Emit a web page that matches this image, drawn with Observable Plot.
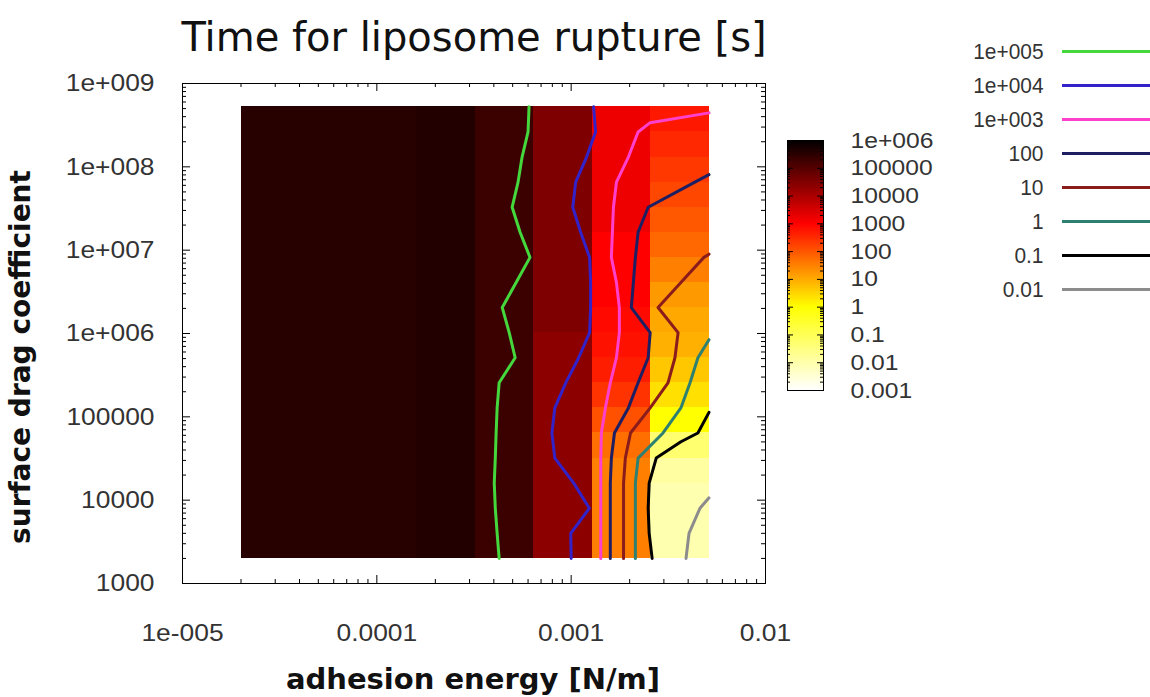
<!DOCTYPE html>
<html>
<head>
<meta charset="utf-8">
<script src="https://cdn.jsdelivr.net/npm/d3@7"></script>
<script src="https://cdn.jsdelivr.net/npm/@observablehq/plot@0.6"></script>
<style>
  html, body { margin: 0; padding: 0; background: #fff; }
  #page { position: relative; width: 1150px; height: 697px; overflow: hidden; background: #fff; }
  #page > * { position: absolute; }
  .title { left: 0px; width: 948px; top: 17px; text-align: center; white-space: nowrap;
           font-family: "DejaVu Sans", sans-serif; font-size: 40px; line-height: 40px; color: #111; }
  .xlabel { left: 173px; width: 600px; top: 665px; text-align: center; white-space: nowrap;
            font-family: "DejaVu Sans", sans-serif; font-weight: bold; font-size: 29px; line-height: 29px; color: #111; }
  .ylabel { left: -229px; width: 500px; top: 343px; text-align: center; white-space: nowrap;
            font-family: "DejaVu Sans", sans-serif; font-weight: bold; font-size: 28px; line-height: 28px; color: #111;
            transform: rotate(-90deg); transform-origin: 50% 50%; }
</style>
</head>
<body>
<div id="page"></div>
<script>
// ---------------- data ----------------
// grid nodes (adhesion energy [N/m], surface drag coefficient)
const energyGrid = [2e-5, 4e-5, 8e-5, 1.6e-4, 3.2e-4, 6.4e-4, 1.28e-3, 2.56e-3, 5.12e-3];
const dragGrid = [2000, 4000, 8000, 16000, 32000, 64000, 128000, 256000, 512000, 1024000,
                  2048000, 4096000, 8192000, 16384000, 32768000, 65536000, 131072000, 262144000, 524288000];

// rupture time [s] of each pm3d cell, one array per energy column, bottom row first
const timeCol0 = [3.5e5,3.5e5,3.5e5,3.5e5,3.5e5,3.5e5,3.5e5,3.5e5,3.5e5,3.5e5,3.5e5,3.5e5,3.5e5,3.5e5,3.5e5,3.5e5,3.5e5,3.5e5];
const timeCol1 = [3.5e5,3.5e5,3.5e5,3.5e5,3.5e5,3.5e5,3.5e5,3.5e5,3.5e5,3.5e5,3.5e5,3.5e5,3.5e5,3.5e5,3.5e5,3.5e5,3.5e5,3.5e5];
const timeCol2 = [3.5e5,3.5e5,3.5e5,3.5e5,3.5e5,3.5e5,3.5e5,3.5e5,3.5e5,3.5e5,3.5e5,3.5e5,3.5e5,3.5e5,3.5e5,3.5e5,3.5e5,3.5e5];
const timeCol3 = [4.0e5,4.0e5,4.0e5,4.0e5,4.0e5,4.0e5,4.0e5,4.0e5,4.0e5,4.0e5,4.0e5,4.0e5,4.0e5,4.0e5,4.0e5,4.0e5,4.0e5,4.0e5];
const timeCol4 = [2.0e5,2.0e5,2.0e5,2.0e5,2.0e5,2.0e5,2.0e5,2.0e5,2.0e5,2.0e5,2.0e5,2.0e5,2.0e5,2.0e5,2.0e5,2.0e5,2.0e5,2.0e5];
const timeCol5 = [2.2e4,2.2e4,2.2e4,2.2e4,2.2e4,2.2e4,2.2e4,2.2e4,2.2e4,3.2e4,3.2e4,3.2e4,3.2e4,3.2e4,3.2e4,3.2e4,3.2e4,3.2e4];
const timeCol6 = [32,32,32,32,50,112,250,450,630,790,1000,1000,1000,1600,1600,1600,1600,1600];
const timeCol7 = [0.0085,0.0085,0.0085,0.0126,0.05,1,2.3,4.5,8.5,10.5,16,32,59,93,145,220,340,525];
const cellTime = [timeCol0, timeCol1, timeCol2, timeCol3, timeCol4, timeCol5, timeCol6, timeCol7];

// contour lines: [adhesion energy, drag coefficient]
const contour1e5 = [[6.07e-4,524288000],[6.0e-4,262144000],[5.59e-4,131072000],[5.33e-4,65536000],[4.97e-4,32768000],
  [5.46e-4,16384000],[6.14e-4,8192000],[5.21e-4,4096000],[4.42e-4,2048000],[4.80e-4,1024000],[5.15e-4,512000],
  [4.26e-4,256000],[4.16e-4,128000],[4.11e-4,64000],[4.07e-4,32000],[4.02e-4,16000],[4.07e-4,8000],[4.16e-4,4000],[4.26e-4,2000]];
const contour1e4 = [[1.304e-3,524288000],[1.335e-3,262144000],[1.20e-3,131072000],[1.055e-3,65536000],[1.019e-3,32768000],
  [1.119e-3,16384000],[1.244e-3,8192000],[1.259e-3,4096000],[1.259e-3,2048000],[1.244e-3,1024000],[1.093e-3,512000],
  [9.38e-4,256000],[8.24e-4,128000],[7.96e-4,64000],[8.24e-4,32000],[1.031e-3,16000],[1.24e-3,8000],[9.95e-4,4000],[1.0e-3,2000]];
const contour1e3 = [[5.12e-3,4.44e8],[2.55e-3,3.39e8],[2.21e-3,262144000],[1.97e-3,131072000],[1.71e-3,65536000],
  [1.65e-3,32768000],[1.63e-3,16384000],[1.61e-3,8192000],[1.71e-3,4096000],[1.77e-3,2048000],[1.77e-3,1024000],
  [1.71e-3,512000],[1.59e-3,256000],[1.50e-3,128000],[1.43e-3,64000],[1.42e-3,32000],[1.42e-3,16000],[1.42e-3,8000],[1.42e-3,4000],[1.42e-3,2000]];
const contour1e2 = [[5.12e-3,8.07e7],[4.33e-3,65536000],[2.49e-3,32768000],[2.21e-3,16384000],[2.14e-3,8192000],
  [2.09e-3,4096000],[2.04e-3,2048000],[2.55e-3,1024000],[2.49e-3,512000],[2.21e-3,256000],[1.97e-3,128000],
  [1.67e-3,64000],[1.61e-3,32000],[1.59e-3,16000],[1.59e-3,8000],[1.59e-3,4000],[1.59e-3,2000]];
const contour1e1 = [[5.12e-3,8.96e6],[4.82e-3,8192000],[3.67e-3,4096000],[2.80e-3,2048000],[3.55e-3,1024000],
  [3.42e-3,512000],[3.15e-3,256000],[2.55e-3,128000],[2.02e-3,64000],[1.90e-3,32000],[1.86e-3,16000],
  [1.86e-3,8000],[1.86e-3,4000],[1.86e-3,2000]];
const contour1e0 = [[5.12e-3,8.43e5],[4.49e-3,512000],[4.09e-3,256000],[3.67e-3,128000],[2.97e-3,64000],
  [2.21e-3,32000],[2.14e-3,16000],[2.14e-3,8000],[2.14e-3,4000],[2.14e-3,2000]];
const contour1em1 = [[5.12e-3,1.13e5],[4.49e-3,64000],[3.67e-3,5.02e4],[2.74e-3,32000],[2.52e-3,16000],
  [2.49e-3,8000],[2.52e-3,4000],[2.61e-3,2000]];
const contour1em2 = [[5.12e-3,1.067e4],[4.60e-3,8000],[4.04e-3,4000],[3.90e-3,2000]];
const contourLines = [contour1e5, contour1e4, contour1e3, contour1e2, contour1e1, contour1e0, contour1em1, contour1em2];
const contourLabels = ["1e+005", "1e+004", "1e+003", "100", "10", "1", "0.1", "0.01"];
const contourColors = ["#44d83c", "#3322c8", "#ff40cc", "#1e1e62", "#8b1c1c", "#2e8070", "#000000", "#8c8c8c"];

// axis ticks
const xTicks = [1e-5, 1e-4, 1e-3, 1e-2];
const xTickLabels = ["1e-005", "0.0001", "0.001", "0.01"];
const yTicks = [1e3, 1e4, 1e5, 1e6, 1e7, 1e8, 1e9];
const yTickLabels = ["1000", "10000", "100000", "1e+006", "1e+007", "1e+008", "1e+009"];
const cbTicks = [1e-3, 1e-2, 1e-1, 1, 10, 100, 1e3, 1e4, 1e5, 1e6];
const cbTickLabels = ["0.001", "0.01", "0.1", "1", "10", "100", "1000", "10000", "100000", "1e+006"];

// ---------------- helpers ----------------
const minorsOf = (majors) => majors.slice(0, -1).flatMap(m => [2,3,4,5,6,7,8,9].map(k => k * m));
const hot = (t) => {
  const s = 1 - t;
  const c = (v) => Math.round(255 * Math.max(0, Math.min(1, v)));
  return `rgb(${c(3 * s)},${c(3 * s - 1)},${c(3 * s - 2)})`;
};
const colorScale = {type: "log", domain: [1e-3, 1e6], interpolate: hot, clamp: true};
const tickFont = '"Liberation Sans", Arial, sans-serif';
const labelMap = (vals, labs) => { const m = new Map(vals.map((v, i) => [v, labs[i]])); return d => m.get(d); };
// stretch text glyphs horizontally (gnuplot's wide raster font)
const stretch = (svg, k) => svg.querySelectorAll("text").forEach(t => {
  const w = t.getComputedTextLength();
  if (w > 0) { t.setAttribute("textLength", (w * k).toFixed(1)); t.setAttribute("lengthAdjust", "spacingAndGlyphs"); }
});

const page = document.getElementById("page");

// ---------------- main chart ----------------
const cells = [];
cellTime.forEach((col, c) => col.forEach((t, r) =>
  cells.push({x1: energyGrid[c], x2: energyGrid[c + 1], y1: dragGrid[r], y2: dragGrid[r + 1], t})));

const W = 800, H = 697, mL = 182, mR = 35, mT = 83, mB = 114;
const frameW = W - mL - mR, frameH = H - mT - mB;
const majorLen = 8, minorLen = 4;
const xMinor = minorsOf(xTicks), yMinor = minorsOf(yTicks);

const main = Plot.plot({
  width: W, height: H, marginLeft: mL, marginRight: mR, marginTop: mT, marginBottom: mB,
  x: {type: "log", domain: [1e-5, 1e-2]},
  y: {type: "log", domain: [1e3, 1e9]},
  color: colorScale,
  style: {background: "transparent", overflow: "visible"},
  marks: [
    Plot.rect(cells, {x1: "x1", x2: "x2", y1: "y1", y2: "y2", fill: "t", shapeRendering: "crispEdges"}),
    ...contourLines.map((pts, k) => Plot.line(pts, {
      x: d => d[0], y: d => d[1], stroke: contourColors[k], strokeWidth: 3,
      strokeLinejoin: "round", strokeLinecap: "round"})),
    Plot.frame({stroke: "#000", strokeWidth: 1}),
    Plot.ruleX(xTicks, {insetTop: frameH - majorLen, stroke: "#000"}),
    Plot.ruleX(xTicks, {insetBottom: frameH - majorLen, stroke: "#000"}),
    Plot.ruleX(xMinor, {insetTop: frameH - minorLen, stroke: "#000"}),
    Plot.ruleX(xMinor, {insetBottom: frameH - minorLen, stroke: "#000"}),
    Plot.ruleY(yTicks, {insetRight: frameW - majorLen, stroke: "#000"}),
    Plot.ruleY(yTicks, {insetLeft: frameW - majorLen, stroke: "#000"}),
    Plot.ruleY(yMinor, {insetRight: frameW - minorLen, stroke: "#000"}),
    Plot.ruleY(yMinor, {insetLeft: frameW - minorLen, stroke: "#000"}),
    Plot.axisX(xTicks, {tickSize: 0, tickPadding: 40, tickFormat: labelMap(xTicks, xTickLabels),
      fontSize: 24, fontFamily: tickFont, fill: "#333", label: null}),
    Plot.axisY(yTicks, {tickSize: 0, tickPadding: 28, tickFormat: labelMap(yTicks, yTickLabels),
      fontSize: 24, fontFamily: tickFont, fill: "#333", label: null})
  ]
});
main.style.left = "0px"; main.style.top = "0px";
page.appendChild(main);
stretch(main, 1.1);

// ---------------- colour bar ----------------
const rampEdges = d3.range(251).map(i => 10 ** (-3 + 9 * i / 250));
const ramp = rampEdges.slice(0, -1).map((e, i) => ({y1: e, y2: rampEdges[i + 1], t: Math.sqrt(e * rampEdges[i + 1])}));
const cbW = 170, cbH = 270, cbL = 5, cbT = 10, cbBarW = 36, cbBarH = 250;
const cbMinor = minorsOf(cbTicks);
const cbar = Plot.plot({
  width: cbW, height: cbH, marginLeft: cbL, marginRight: cbW - cbL - cbBarW, marginTop: cbT, marginBottom: cbH - cbT - cbBarH,
  y: {type: "log", domain: [1e-3, 1e6]},
  color: colorScale,
  style: {background: "transparent", overflow: "visible"},
  marks: [
    Plot.rect(ramp, {y1: "y1", y2: "y2", fill: "t", shapeRendering: "crispEdges"}),
    Plot.ruleY(cbTicks, {insetRight: cbBarW - 6, stroke: "#000"}),
    Plot.ruleY(cbTicks, {insetLeft: cbBarW - 6, stroke: "#000"}),
    Plot.ruleY(cbMinor, {insetRight: cbBarW - 3, stroke: "#000"}),
    Plot.ruleY(cbMinor, {insetLeft: cbBarW - 3, stroke: "#000"}),
    Plot.frame({stroke: "#000", strokeWidth: 1}),
    Plot.axisY(cbTicks, {anchor: "right", tickSize: 0, tickPadding: 27, tickFormat: labelMap(cbTicks, cbTickLabels),
      fontSize: 22, fontFamily: tickFont, fill: "#333", label: null})
  ]
});
cbar.style.left = (787 - cbL) + "px"; cbar.style.top = (140 - cbT) + "px";
page.appendChild(cbar);
stretch(cbar, 1.12);

// ---------------- contour legend ----------------
const lg = Plot.plot({
  width: 200, height: 300, margin: 0,
  y: {type: "point", domain: contourLabels, range: [20, 259], padding: 0, axis: null},
  style: {background: "transparent", overflow: "visible"},
  marks: [
    ...contourLabels.map((lab, i) => Plot.ruleY([lab], {stroke: contourColors[i], strokeWidth: 3, insetLeft: 112})),
    Plot.text(contourLabels, {y: d => d, frameAnchor: "left", dx: 93, textAnchor: "end",
      fontSize: 22, fontFamily: tickFont, fill: "#333"})
  ]
});
lg.style.left = "950px"; lg.style.top = "30px";
page.appendChild(lg);
stretch(lg, 0.95);

// ---------------- titles ----------------
const addText = (cls, txt) => { const d = document.createElement("div"); d.className = cls; d.textContent = txt; page.appendChild(d); };
addText("title", "Time for liposome rupture [s]");
addText("xlabel", "adhesion energy [N/m]");
addText("ylabel", "surface drag coefficient");
</script>
</body>
</html>
